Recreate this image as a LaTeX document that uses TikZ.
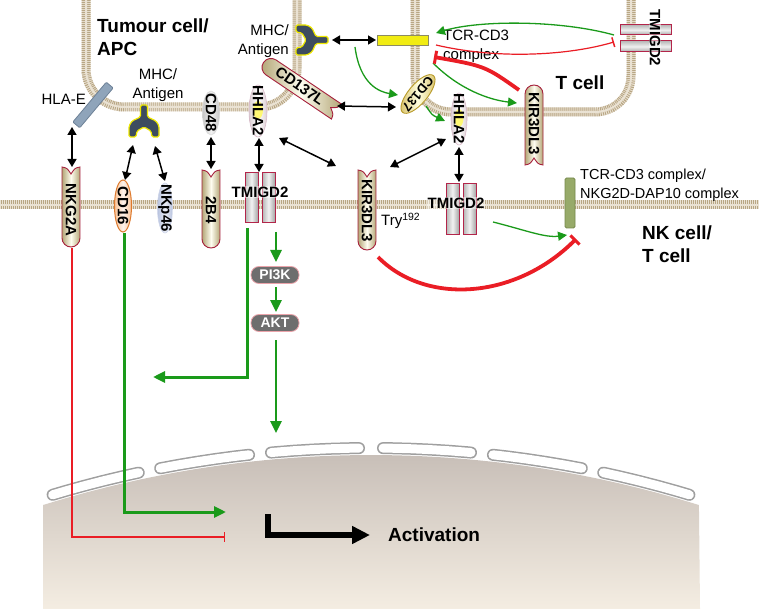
\documentclass[tikz,border=0pt]{standalone}
\usepackage{fontspec}
\setmainfont{Liberation Sans}
\usetikzlibrary{arrows.meta}
\definecolor{memA}{HTML}{EAE2D3}
\definecolor{memB}{HTML}{B8A684}
\definecolor{rcpEdge}{HTML}{B3A676}
\definecolor{rcpMid}{HTML}{FEFDF0}
\definecolor{rcpLine}{HTML}{A6203C}
\definecolor{barLine}{HTML}{B3254A}
\definecolor{gArr}{HTML}{1A9A1A}
\definecolor{rInh}{HTML}{EA1D25}
\definecolor{mhcFill}{HTML}{3D4C5F}
\definecolor{mhcLine}{HTML}{EEE800}
\definecolor{nucTop}{HTML}{C8BFB8}
\definecolor{nucBot}{HTML}{F4EDE2}
\definecolor{hlaFill}{HTML}{8FA4BA}
\definecolor{hlaLine}{HTML}{6D8197}
\definecolor{pillFill}{HTML}{6E6E6E}
\definecolor{pillLine}{HTML}{EBA3AA}
\definecolor{cplxFill}{HTML}{97AA69}
\definecolor{cplxLine}{HTML}{77894C}
\definecolor{tcrFill}{HTML}{F1EC12}
\definecolor{tcrLine}{HTML}{8C8B63}
\definecolor{cdsixFill}{HTML}{F7D5BE}
\definecolor{cdsixLine}{HTML}{DE7A2E}
\definecolor{nkpFill}{HTML}{B7C2DF}
\definecolor{hhFill}{HTML}{F2E3E8}
\definecolor{hhLine}{HTML}{D8B8C8}
\definecolor{cdEdge}{HTML}{D6BE62}
\definecolor{cdLine}{HTML}{B89A2A}

\newcommand{\rcpShape}[4]{%
  \path[rcp, shift={(#1,#2)}, rotate=#3] (-9,-#4) .. controls (-4,-#4+1) .. (0,-#4+7) .. controls (4,-#4+1) .. (9,-#4) -- (9,#4-9) arc[start angle=0, end angle=180, radius=9] -- cycle;}
\newcommand{\mhcShape}[3]{%
  \path[mhcsty, shift={(#1,#2)}, rotate=#3] (-3.5,-17) -- (3.5,-17) -- (3.5,-5) -- (12,-1) -- (15,4) -- (15,15) -- (8,15) -- (7,9) -- (0,5) -- (-7,9) -- (-8,15) -- (-15,15) -- (-15,4) -- (-12,-1) -- (-3.5,-5) -- cycle;}

\tikzset{
  membase/.style={line width=9pt, draw=memA},
  memtick/.style={line width=9pt, draw=memB, dash pattern=on 0.9pt off 1.1pt},
  memcore/.style={line width=2pt, draw=memA},
  rcp/.style={draw=rcpLine, line width=0.9pt, left color=rcpEdge, right color=rcpEdge, middle color=rcpMid},
  tmbar/.style={draw=barLine, line width=1pt, left color=gray!60, right color=gray!70, middle color=gray!10},
  tmbarh/.style={draw=barLine, line width=1pt, top color=gray!55, bottom color=gray!70, middle color=gray!12},
  mhcsty/.style={fill=mhcFill, draw=mhcLine, line width=1.2pt, rounded corners=1.5pt},
  rlabb/.style={font=\bfseries\fontsize{15}{15}\selectfont, inner sep=0pt},
  rlab/.style={rlabb, rotate=-90},
  tmlab/.style={font=\bfseries\fontsize{15}{15}\selectfont, inner sep=1pt, fill=white, fill opacity=0.45, text opacity=1},
  txt/.style={font=\fontsize{15}{19}\selectfont, inner sep=0pt},
  bigtxt/.style={font=\bfseries\fontsize{19}{23}\selectfont, inner sep=0pt},
  dbl/.style={line width=1.5pt, {Triangle[length=8pt,width=9pt]}-{Triangle[length=8pt,width=9pt]}},
  garr/.style={draw=gArr, line width=1.3pt, -{Triangle[length=9pt,width=9pt]}},
  gthick/.style={draw=gArr, line width=3pt, -{Triangle[length=12pt,width=11pt]}},
  rthin/.style={draw=rInh, line width=1.2pt, -{Bar[width=10pt,line width=1.5pt]}},
  rthick/.style={draw=rInh, line width=3.8pt, -{Bar[width=13pt,line width=3pt]}},
  pill/.style={fill=pillFill, draw=pillLine, line width=0.8pt, rounded corners=8pt, minimum width=48pt, minimum height=17pt, text=white, font=\bfseries\fontsize{14}{14}\selectfont, inner sep=0pt},
  nseg/.style={draw=gray!75, double=white, double distance=9pt, line width=1.5pt, line cap=round}
}

\begin{document}
\begin{tikzpicture}[x=1pt,y=-1pt]
\useasboundingbox[fill=white] (0,0) rectangle (759,609);

% nucleus
\shade[top color=nucTop, bottom color=nucBot] (43,609) -- plot[domain=-17.33:17.33, samples=60] ({371+1101*sin(\x)},{1556-1101*cos(\x)}) -- (700,609) -- cycle;
\foreach \a/\b in {-16.7/-12.1, -10.97/-6.32, -5.18/-0.62, 0.62/5.18, 6.32/10.97, 12.1/16.7}
  \draw[nseg] plot[domain=\a:\b, samples=20] ({371+1108*sin(\x)},{1556-1108*cos(\x)});

% membranes
\foreach \sty in {membase,memtick,memcore}{
  \draw[\sty] [rounded corners=38pt] (86,-10) -- (86,107) -- (297,107) -- (297,-10);
  \draw[\sty] [rounded corners=36pt] (415,-10) -- (415,112) -- (631,112) -- (631,-10);
  \draw[\sty] (-5,205) -- (764,205);
}

% coordinates for connectors
\coordinate (hlaeB) at (72,127);   \coordinate (nkgT) at (72,167);
\coordinate (mhcLa) at (133,145);  \coordinate (cdsixT) at (125,180);
\coordinate (mhcLb) at (155,146);  \coordinate (nkpT) at (165,181);
\coordinate (cdfB) at (211,137);   \coordinate (tbfT) at (211,169);
\coordinate (hhLB) at (259,138);   \coordinate (tmLT) at (259,172);
\coordinate (hhLR) at (279,138);   \coordinate (kirNKa) at (336,166);
\coordinate (cdlE) at (337,106);   \coordinate (cdW) at (396,107);
\coordinate (mhcUE) at (332,40);   \coordinate (tcrW) at (376,40);
\coordinate (hhRL) at (446,139);   \coordinate (kirNKb) at (390,167);
\coordinate (hhRB) at (459,147);   \coordinate (tmRT) at (459,182);

% shapes
\draw[fill=hlaFill, draw=hlaLine, line width=0.8pt, shift={(93,105)}, rotate=50, rounded corners=1pt] (-26,-4.5) rectangle (26,4.5);
\mhcShape{144}{122}{0}
\mhcShape{311}{40}{-90}
\path[draw=gray!30, line width=0.6pt, left color=gray!45, right color=gray!45, middle color=gray!10] (211,113) ellipse [x radius=8.5, y radius=22];
\path[draw=hhLine, line width=0.6pt, left color=hhFill!80!gray, right color=hhFill!80!gray, middle color=white] (258,111) ellipse [x radius=9, y radius=26];
\fill[yellow!55!white] (258,110) ellipse [x radius=5, y radius=9];
\path[draw=hhLine, line width=0.6pt, left color=hhFill!80!gray, right color=hhFill!80!gray, middle color=white] (459,119) ellipse [x radius=8, y radius=26];
\fill[yellow!55!white] (459,118) ellipse [x radius=4.5, y radius=9];
\rcpShape{300}{87}{-124}{44}
\draw[fill=tcrFill, draw=tcrLine, line width=0.8pt] (377,35) rectangle (428,45);
\path[draw=cdLine, line width=0.9pt, left color=cdEdge, right color=cdEdge, middle color=yellow!12, shift={(418,94)}, rotate=50] (0,0) ellipse [x radius=24, y radius=9.5];
\rcpShape{534}{125}{180}{40}
\path[tmbarh] (620,25) rectangle (671,35);
\path[tmbarh] (620,41) rectangle (671,52);
\rcpShape{71}{207}{0}{40}
\path[draw=cdsixLine, line width=1pt, left color=cdsixFill!80!orange, right color=cdsixFill!80!orange, middle color=cdsixFill!30] (123,206) ellipse [x radius=8.5, y radius=26];
\path[draw=nkpFill!70, line width=0.6pt, left color=nkpFill, right color=nkpFill, middle color=nkpFill!30] (165,208) ellipse [x radius=7.5, y radius=25];
\rcpShape{211}{209}{0}{39}
\path[tmbar] (245,173) rectangle (258,223);
\path[tmbar] (262,173) rectangle (275,223);
\rcpShape{367}{210}{0}{40}
\path[tmbar] (446,184) rectangle (459,235);
\path[tmbar] (463,184) rectangle (476,235);
\draw[fill=cplxFill, draw=cplxLine, line width=0.8pt, rounded corners=1.5pt] (565,178) rectangle (575,228);

% labels on shapes
\node[rlab] (nkg2a) at (71,210) {NKG2A};
\node[rlab] (cd16) at (123,206) {CD16};
\node[rlab] (nkp46) at (165,208) {NKp46};
\node[rlab] (twobfour) at (211,210) {2B4};
\node[rlab] (cd48) at (211,113) {CD48};
\node[rlab] (hhlaL) at (258,111) {HHLA2};
\node[rlab] (hhlaR) at (459,119) {HHLA2};
\node[rlab] (kirNK) at (367,211) {KIR3DL3};
\node[rlab] (kirT) at (534,124) {KIR3DL3};
\node[rlabb, rotate=-35] (cd137l) at (300,86) {CD137L};
\node[rlabb, font=\bfseries\fontsize{13}{13}\selectfont, rotate=-130] (cd137) at (418,94) {CD137};
\node[tmlab] (tmL) at (260,192) {TMIGD2};
\node[tmlab] (tmR) at (456,203) {TMIGD2};
\node[tmlab, rotate=-90] (tmT) at (655,38) {TMIGD2};
\node[pill] (pi3k) at (275,275) {PI3K};
\node[pill] (akt) at (275,323) {AKT};

% texts
\node[bigtxt, align=left, anchor=west] (tumour) at (97,37) {Tumour cell/\\APC};
\node[bigtxt] (tcell) at (580,83) {T cell};
\node[bigtxt, align=left, anchor=west] (nkcell) at (642,244) {NK cell/\\T cell};
\node[txt, align=center] (mhcL) at (158,85) {MHC/\\Antigen};
\node[txt, align=right, anchor=east] (mhcU) at (289,41) {MHC/\\Antigen};
\node[txt, anchor=east] (hlae) at (86,99) {HLA-E};
\node[txt, align=left, anchor=west] (tcrlab) at (443,46) {TCR-CD3\\complex};
\node[txt, font=\fontsize{14.5}{19}\selectfont, align=left, anchor=west] (cplxlab) at (580,185) {TCR-CD3 complex/\\NKG2D-DAP10 complex};
\node[txt, anchor=west] (try) at (381,221) {Try\textsuperscript{192}};
\node[bigtxt, anchor=west] (act) at (388,535) {Activation};

% black double arrows
\draw[dbl] (hlaeB) -- (nkgT);
\draw[dbl] (mhcLa) -- (cdsixT);
\draw[dbl] (mhcLb) -- (nkpT);
\draw[dbl] (cdfB) -- (tbfT);
\draw[dbl] (hhLB) -- (tmLT);
\draw[dbl] (hhLR) -- (kirNKa);
\draw[dbl] (cdlE) -- (cdW);
\draw[dbl] (mhcUE) -- (tcrW);
\draw[dbl] (hhRL) -- (kirNKb);
\draw[dbl] (hhRB) -- (tmRT);

% green thin arrows
\coordinate (gaS) at (355,47);  \coordinate (gaE) at (398,95);
\coordinate (gbS) at (426,106); \coordinate (gbE) at (445,121);
\coordinate (gcS) at (433,63);  \coordinate (gcE) at (517,103);
\coordinate (gdS) at (614,35);  \coordinate (gdE) at (436,33);
\coordinate (geS) at (493,222); \coordinate (geE) at (567,235);
\draw[garr] (gaS) .. controls (360,85) and (380,92) .. (gaE);
\draw[garr] (gbS) .. controls (432,115) .. (gbE);
\draw[garr] (gcS) .. controls (460,90) and (490,100) .. (gcE);
\draw[garr] (gdS) .. controls (560,20) and (480,20) .. (gdE);
\draw[garr] (geS) .. controls (525,230) and (545,238) .. (geE);

% red inhibition
\coordinate (raS) at (436,45);  \coordinate (raE) at (614,42);
\coordinate (rbS) at (519,90);  \coordinate (rbE) at (434,57);
\coordinate (rcS) at (378,257); \coordinate (rcE) at (576,239);
\draw[rthin] (raS) .. controls (500,60) and (570,55) .. (raE);
\draw[rthick] (rbS) .. controls (485,66) .. (rbE);
\draw[rthick] (rcS) .. controls (425,305) and (515,300) .. (rcE);

% lower pathways
\coordinate (nkgB) at (72,248);  \coordinate (nkgC) at (72,537);  \coordinate (nkgE) at (225,537);
\coordinate (cdsB) at (124,233); \coordinate (cdsC) at (124,512); \coordinate (cdsE) at (226,512);
\coordinate (tmLB) at (247,228); \coordinate (tmLC) at (247,377); \coordinate (tmLE) at (153,377);
\coordinate (tmRB) at (276,232); \coordinate (pTop) at (276,262);
\coordinate (pBot) at (276,287); \coordinate (aTop) at (276,312);
\coordinate (aBot) at (276,340); \coordinate (nucT) at (276,433);
\draw[rthin] (nkgB) -- (nkgC) -- (nkgE);
\draw[gthick] (cdsB) -- (cdsC) -- (cdsE);
\draw[gthick] (tmLB) -- (tmLC) -- (tmLE);
\draw[gthick, line width=2.5pt] (tmRB) -- (pTop);
\draw[gthick, line width=2.5pt] (pBot) -- (aTop);
\draw[gthick, line width=2.5pt] (aBot) -- (nucT);

% activation arrow
\coordinate (bentA) at (268,514); \coordinate (bentB) at (268,535); \coordinate (bentC) at (370,535);
\draw[line width=5.5pt, line join=miter, -{Triangle[length=18pt,width=17pt]}] (bentA) -- (bentB) -- (bentC);
\end{tikzpicture}
\end{document}
